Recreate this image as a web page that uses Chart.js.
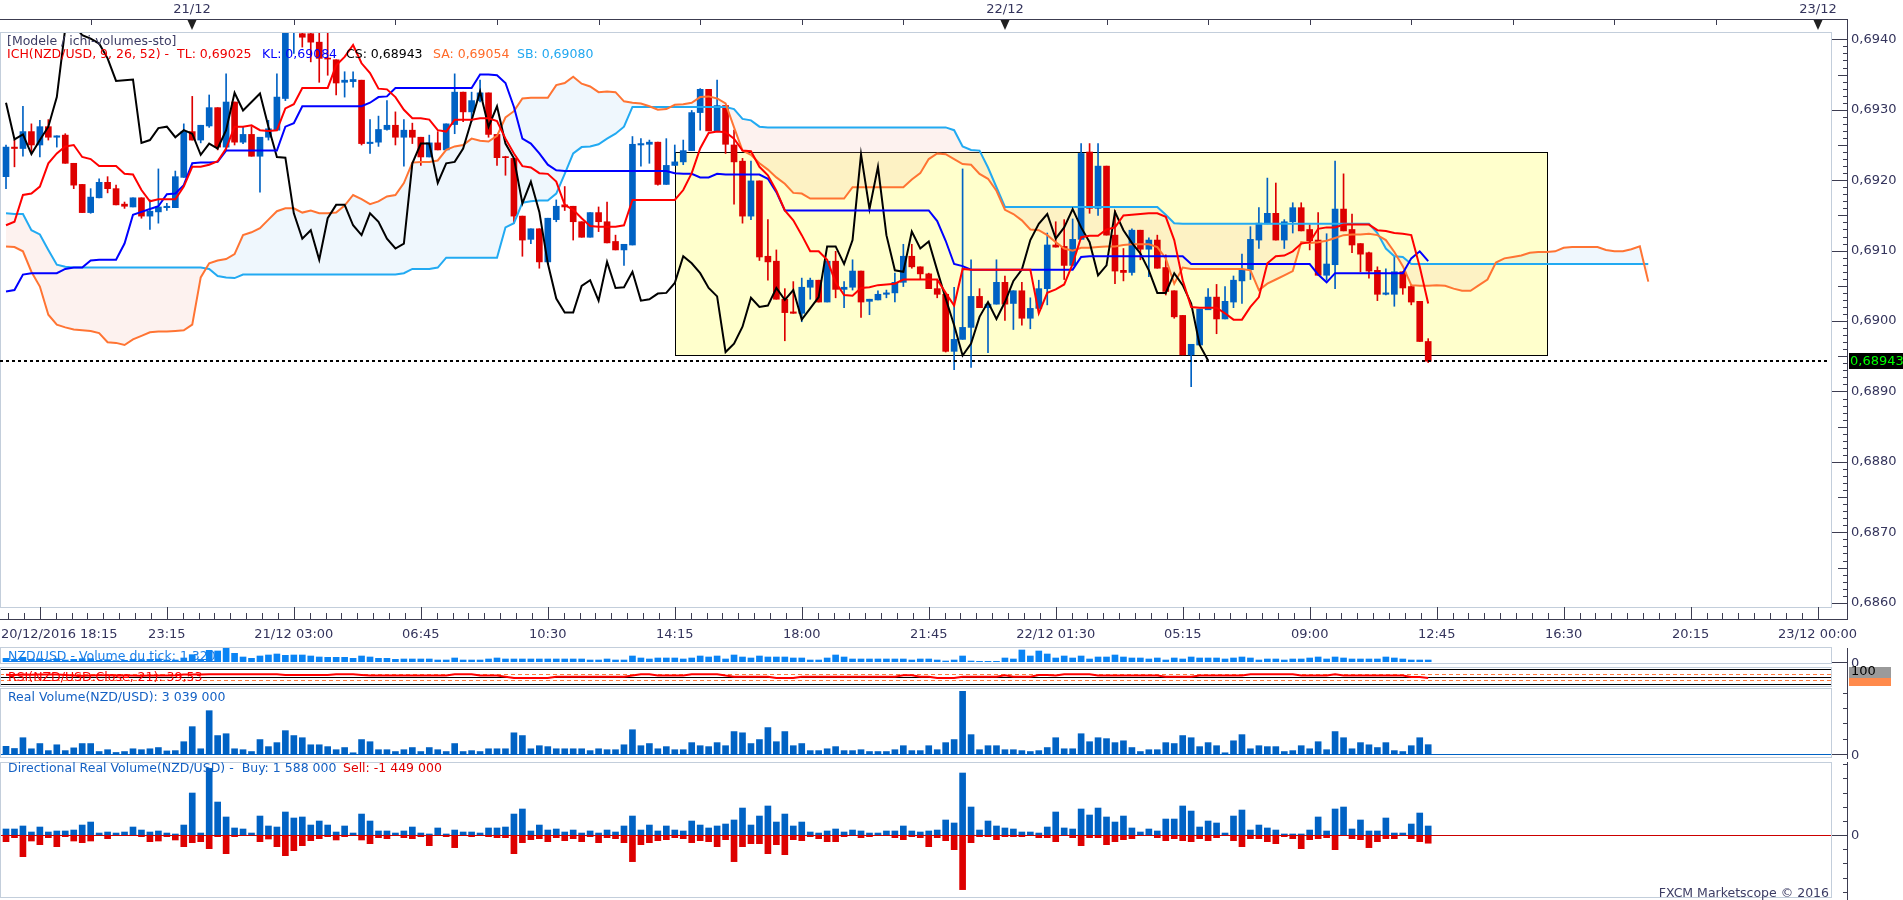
<!DOCTYPE html>
<html>
<head>
<meta charset="utf-8">
<title>NZD/USD - Ichimoku</title>
<script src="https://cdn.jsdelivr.net/npm/chart.js"></script>
<style>
  html, body { margin: 0; padding: 0; background: #fff; }
  #wrap { position: relative; width: 1903px; height: 900px; overflow: hidden;
          font-family: "DejaVu Sans", Verdana, sans-serif; font-size: 12.5px; }
  canvas { position: absolute; left: 0; }
  .txt { position: absolute; white-space: pre; line-height: 14px; z-index: 5; }
</style>
</head>
<body>
<div id="wrap">
  <canvas id="main" width="1903" height="645" style="top:0px"></canvas>
  <canvas id="tick" width="1903" height="22" style="top:644px"></canvas>
  <canvas id="rsi" width="1903" height="22" style="top:666px"></canvas>
  <canvas id="rvol" width="1903" height="73" style="top:688px"></canvas>
  <canvas id="dvol" width="1903" height="139" style="top:761px"></canvas>

  <div class="txt" style="left:7px;top:34px;color:#3c3c64">[Modele / ichi-volumes-sto]</div>
  <div class="txt" style="left:7px;top:47px;color:#ee0000">ICH(NZD/USD, 9, 26, 52) -  TL: 0,69025</div>
  <div class="txt" style="left:262px;top:47px;color:#0000ff">KL: 0,69084</div>
  <div class="txt" style="left:346px;top:47px;color:#000000">CS: 0,68943</div>
  <div class="txt" style="left:433px;top:47px;color:#ff6a28">SA: 0,69054</div>
  <div class="txt" style="left:517px;top:47px;color:#22a8f0">SB: 0,69080</div>

  <div class="txt" style="left:8px;top:649px;color:#1a7ee8;text-decoration:underline">NZD/USD - Volume du tick: 1 320</div>
  <div class="txt" style="left:8px;top:670px;color:#ff0000">RSI(NZD/USD.Close, 21): 39,53</div>
  <div class="txt" style="left:8px;top:690px;color:#1461c4">Real Volume(NZD/USD): 3 039 000</div>
  <div class="txt" style="left:8px;top:761px;color:#1461c4">Directional Real Volume(NZD/USD) -  Buy: 1 588 000</div>
  <div class="txt" style="left:343px;top:761px;color:#e00000">Sell: -1 449 000</div>
  <div class="txt" style="right:74px;top:886px;color:#3c3c64">FXCM Marketscope © 2016</div>
</div>

<script>
// 15 minute bars, index 0 = 20/12 18:30, index 168 = 22/12 12:30
const open = [
  0.69205, 0.69247, 0.69245, 0.69269, 0.69250, 0.69276, 0.69261, 0.69264, 0.69224, 0.69194,
  0.69154, 0.69175, 0.69197, 0.69188, 0.69166, 0.69162, 0.69175, 0.69149, 0.69155, 0.69161,
  0.69161, 0.69204, 0.69269, 0.69257, 0.69277, 0.69303, 0.69247, 0.69311, 0.69254, 0.69265,
  0.69234, 0.69261, 0.69271, 0.69316, 0.69415, 0.69408, 0.69408, 0.69396, 0.69373, 0.69371,
  0.69339, 0.69340, 0.69342, 0.69252, 0.69254, 0.69272, 0.69278, 0.69261, 0.69271, 0.69261,
  0.69233, 0.69253, 0.69243, 0.69279, 0.69325, 0.69297, 0.69313, 0.69324, 0.69265, 0.69233,
  0.69231, 0.69149, 0.69116, 0.69131, 0.69084, 0.69144, 0.69165, 0.69163, 0.69141, 0.69119,
  0.69154, 0.69141, 0.69113, 0.69101, 0.69108, 0.69250, 0.69251, 0.69254, 0.69194, 0.69221,
  0.69226, 0.69242, 0.69296, 0.69329, 0.69270, 0.69306, 0.69250, 0.69227, 0.69149, 0.69199,
  0.69092, 0.69085, 0.69031, 0.69013, 0.69011, 0.69048, 0.69058, 0.69027, 0.69085, 0.69045,
  0.69048, 0.69071, 0.69028, 0.69030, 0.69038, 0.69040, 0.69055, 0.69092, 0.69077, 0.69067,
  0.69046, 0.69038, 0.68957, 0.68974, 0.68991, 0.69035, 0.69019, 0.69024, 0.69055, 0.69025,
  0.69043, 0.69004, 0.69018, 0.69046, 0.69108, 0.69106, 0.69079, 0.69116, 0.69240, 0.69160,
  0.69220, 0.69122, 0.69072, 0.69069, 0.69129, 0.69102, 0.69115, 0.69076, 0.69043, 0.69008,
  0.68952, 0.68966, 0.69016, 0.69034, 0.69003, 0.69027, 0.69057, 0.69073, 0.69115, 0.69138,
  0.69153, 0.69115, 0.69141, 0.69161, 0.69130, 0.69115, 0.69065, 0.69080, 0.69159, 0.69130,
  0.69110, 0.69097, 0.69072, 0.69038, 0.69038, 0.69070, 0.69049, 0.69028, 0.68971
];
const high = [
  0.69250, 0.69257, 0.69305, 0.69280, 0.69285, 0.69286, 0.69263, 0.69266, 0.69224, 0.69194,
  0.69188, 0.69202, 0.69205, 0.69193, 0.69169, 0.69175, 0.69175, 0.69172, 0.69216, 0.69167,
  0.69213, 0.69280, 0.69319, 0.69278, 0.69321, 0.69303, 0.69351, 0.69311, 0.69275, 0.69276,
  0.69261, 0.69285, 0.69351, 0.69430, 0.69430, 0.69412, 0.69412, 0.69410, 0.69410, 0.69371,
  0.69354, 0.69354, 0.69342, 0.69286, 0.69291, 0.69313, 0.69297, 0.69286, 0.69281, 0.69261,
  0.69264, 0.69269, 0.69280, 0.69351, 0.69325, 0.69325, 0.69342, 0.69324, 0.69265, 0.69234,
  0.69231, 0.69149, 0.69131, 0.69131, 0.69146, 0.69172, 0.69191, 0.69163, 0.69141, 0.69154,
  0.69162, 0.69169, 0.69122, 0.69109, 0.69262, 0.69259, 0.69257, 0.69254, 0.69259, 0.69250,
  0.69257, 0.69299, 0.69330, 0.69329, 0.69342, 0.69306, 0.69271, 0.69231, 0.69227, 0.69199,
  0.69144, 0.69101, 0.69046, 0.69056, 0.69061, 0.69061, 0.69058, 0.69085, 0.69099, 0.69056,
  0.69087, 0.69071, 0.69031, 0.69043, 0.69044, 0.69068, 0.69109, 0.69109, 0.69077, 0.69068,
  0.69059, 0.69038, 0.69048, 0.69216, 0.69087, 0.69046, 0.69024, 0.69087, 0.69064, 0.69043,
  0.69055, 0.69033, 0.69058, 0.69125, 0.69141, 0.69144, 0.69145, 0.69252, 0.69252, 0.69252,
  0.69220, 0.69157, 0.69103, 0.69131, 0.69129, 0.69118, 0.69122, 0.69094, 0.69043, 0.69008,
  0.68967, 0.69017, 0.69046, 0.69052, 0.69049, 0.69064, 0.69095, 0.69134, 0.69161, 0.69203,
  0.69196, 0.69144, 0.69168, 0.69168, 0.69137, 0.69154, 0.69124, 0.69227, 0.69209, 0.69152,
  0.69110, 0.69098, 0.69077, 0.69074, 0.69091, 0.69070, 0.69052, 0.69028, 0.68975
];
const low = [
  0.69188, 0.69219, 0.69234, 0.69240, 0.69233, 0.69257, 0.69247, 0.69224, 0.69188, 0.69154,
  0.69153, 0.69175, 0.69182, 0.69165, 0.69160, 0.69162, 0.69146, 0.69130, 0.69139, 0.69157,
  0.69161, 0.69204, 0.69257, 0.69253, 0.69275, 0.69243, 0.69243, 0.69250, 0.69252, 0.69234,
  0.69183, 0.69257, 0.69271, 0.69313, 0.69380, 0.69389, 0.69368, 0.69339, 0.69349, 0.69321,
  0.69318, 0.69332, 0.69250, 0.69238, 0.69248, 0.69271, 0.69250, 0.69220, 0.69252, 0.69221,
  0.69233, 0.69243, 0.69243, 0.69266, 0.69283, 0.69283, 0.69311, 0.69261, 0.69221, 0.69207,
  0.69139, 0.69092, 0.69110, 0.69075, 0.69082, 0.69141, 0.69157, 0.69115, 0.69119, 0.69119,
  0.69127, 0.69111, 0.69101, 0.69079, 0.69108, 0.69220, 0.69224, 0.69193, 0.69194, 0.69221,
  0.69222, 0.69242, 0.69271, 0.69270, 0.69270, 0.69238, 0.69166, 0.69139, 0.69144, 0.69086,
  0.69058, 0.69031, 0.68972, 0.69011, 0.68999, 0.69031, 0.69027, 0.69027, 0.69033, 0.69019,
  0.69044, 0.69005, 0.69009, 0.69030, 0.69033, 0.69027, 0.69049, 0.69075, 0.69059, 0.69046,
  0.69033, 0.68956, 0.68931, 0.68974, 0.68934, 0.69019, 0.68955, 0.69024, 0.69001, 0.68988,
  0.68994, 0.68989, 0.69018, 0.69023, 0.69105, 0.69059, 0.69079, 0.69116, 0.69153, 0.69150,
  0.69122, 0.69053, 0.69057, 0.69065, 0.69087, 0.69063, 0.69075, 0.69037, 0.69004, 0.68952,
  0.68907, 0.68966, 0.69016, 0.68982, 0.69003, 0.69019, 0.69025, 0.69059, 0.69103, 0.69138,
  0.69115, 0.69103, 0.69125, 0.69128, 0.69101, 0.69065, 0.69058, 0.69046, 0.69128, 0.69097,
  0.69070, 0.69061, 0.69029, 0.69037, 0.69021, 0.69038, 0.69023, 0.68971, 0.68941
];
const close = [
  0.69247, 0.69245, 0.69269, 0.69250, 0.69276, 0.69261, 0.69263, 0.69224, 0.69193, 0.69154,
  0.69176, 0.69197, 0.69188, 0.69165, 0.69163, 0.69175, 0.69149, 0.69156, 0.69162, 0.69163,
  0.69205, 0.69269, 0.69257, 0.69278, 0.69303, 0.69247, 0.69311, 0.69254, 0.69265, 0.69234,
  0.69261, 0.69273, 0.69318, 0.69420, 0.69420, 0.69403, 0.69396, 0.69373, 0.69372, 0.69338,
  0.69342, 0.69343, 0.69252, 0.69254, 0.69272, 0.69278, 0.69261, 0.69271, 0.69261, 0.69233,
  0.69253, 0.69243, 0.69280, 0.69325, 0.69297, 0.69313, 0.69324, 0.69265, 0.69232, 0.69232,
  0.69149, 0.69115, 0.69131, 0.69084, 0.69146, 0.69163, 0.69162, 0.69141, 0.69119, 0.69154,
  0.69141, 0.69111, 0.69101, 0.69109, 0.69251, 0.69252, 0.69254, 0.69194, 0.69221, 0.69226,
  0.69242, 0.69296, 0.69329, 0.69270, 0.69306, 0.69251, 0.69226, 0.69149, 0.69199, 0.69091,
  0.69084, 0.69031, 0.69012, 0.69011, 0.69048, 0.69058, 0.69027, 0.69085, 0.69045, 0.69048,
  0.69071, 0.69027, 0.69031, 0.69038, 0.69040, 0.69055, 0.69092, 0.69077, 0.69067, 0.69046,
  0.69038, 0.68957, 0.68974, 0.68991, 0.69035, 0.69019, 0.69024, 0.69055, 0.69024, 0.69043,
  0.69004, 0.69018, 0.69046, 0.69108, 0.69105, 0.69079, 0.69116, 0.69238, 0.69160, 0.69220,
  0.69122, 0.69071, 0.69069, 0.69129, 0.69102, 0.69115, 0.69075, 0.69042, 0.69006, 0.68952,
  0.68967, 0.69017, 0.69034, 0.69003, 0.69028, 0.69058, 0.69073, 0.69116, 0.69139, 0.69153,
  0.69115, 0.69141, 0.69161, 0.69128, 0.69114, 0.69065, 0.69081, 0.69159, 0.69128, 0.69108,
  0.69095, 0.69071, 0.69038, 0.69040, 0.69070, 0.69047, 0.69027, 0.68971, 0.68943
];

// Ichimoku lines, read at their plotted bar positions
const tenkan = [
  0.69136, 0.69141, 0.69179, 0.69181, 0.69191, 0.69224, 0.69238, 0.69248, 0.69250, 0.69233,
  0.69230, 0.69220, 0.69220, 0.69220, 0.69209, 0.69208, 0.69186, 0.69170, 0.69173, 0.69173,
  0.69173, 0.69191, 0.69219, 0.69219, 0.69222, 0.69227, 0.69245, 0.69276, 0.69276, 0.69278,
  0.69271, 0.69270, 0.69271, 0.69302, 0.69308, 0.69331, 0.69331, 0.69331, 0.69331, 0.69363,
  0.69375, 0.69392, 0.69366, 0.69352, 0.69330, 0.69329, 0.69318, 0.69300, 0.69288, 0.69288,
  0.69286, 0.69271, 0.69269, 0.69286, 0.69286, 0.69286, 0.69288, 0.69288, 0.69284, 0.69259,
  0.69238, 0.69220, 0.69218, 0.69210, 0.69209, 0.69198, 0.69165, 0.69158, 0.69146, 0.69135,
  0.69134, 0.69134, 0.69134, 0.69136, 0.69172, 0.69172, 0.69172, 0.69172, 0.69172, 0.69172,
  0.69186, 0.69210, 0.69245, 0.69267, 0.69269, 0.69268, 0.69259, 0.69242, 0.69241, 0.69219,
  0.69207, 0.69185, 0.69157, 0.69143, 0.69122, 0.69099, 0.69099, 0.69087, 0.69055, 0.69037,
  0.69036, 0.69047, 0.69048, 0.69051, 0.69052, 0.69053, 0.69059, 0.69059, 0.69059, 0.69059,
  0.69059, 0.69040, 0.69022, 0.69074, 0.69073, 0.69073, 0.69073, 0.69073, 0.69073, 0.69073,
  0.69073, 0.69073, 0.69011, 0.69040, 0.69045, 0.69052, 0.69081, 0.69119, 0.69121, 0.69121,
  0.69130, 0.69133, 0.69150, 0.69151, 0.69152, 0.69153, 0.69153, 0.69148, 0.69115, 0.69058,
  0.69020, 0.69019, 0.69019, 0.69019, 0.69011, 0.69002, 0.69002, 0.69020, 0.69034, 0.69082,
  0.69092, 0.69093, 0.69099, 0.69110, 0.69112, 0.69131, 0.69133, 0.69133, 0.69137, 0.69137,
  0.69137, 0.69137, 0.69129, 0.69128, 0.69125, 0.69124, 0.69122, 0.69077, 0.69025
];
const kijun = [
  0.69042, 0.69044, 0.69066, 0.69068, 0.69068, 0.69068, 0.69068, 0.69074, 0.69076, 0.69076,
  0.69086, 0.69087, 0.69087, 0.69087, 0.69110, 0.69151, 0.69155, 0.69159, 0.69163, 0.69180,
  0.69181, 0.69193, 0.69224, 0.69225, 0.69225, 0.69226, 0.69242, 0.69242, 0.69242, 0.69242,
  0.69242, 0.69242, 0.69242, 0.69276, 0.69281, 0.69305, 0.69305, 0.69305, 0.69305, 0.69305,
  0.69305, 0.69305, 0.69305, 0.69310, 0.69318, 0.69319, 0.69331, 0.69331, 0.69331, 0.69331,
  0.69331, 0.69331, 0.69331, 0.69331, 0.69331, 0.69331, 0.69350, 0.69350, 0.69349, 0.69338,
  0.69304, 0.69259, 0.69252, 0.69238, 0.69222, 0.69214, 0.69213, 0.69213, 0.69213, 0.69213,
  0.69213, 0.69213, 0.69213, 0.69213, 0.69213, 0.69213, 0.69213, 0.69213, 0.69213, 0.69210,
  0.69209, 0.69209, 0.69204, 0.69204, 0.69209, 0.69208, 0.69208, 0.69208, 0.69208, 0.69208,
  0.69202, 0.69183, 0.69157, 0.69157, 0.69157, 0.69157, 0.69157, 0.69157, 0.69157, 0.69157,
  0.69157, 0.69157, 0.69157, 0.69157, 0.69157, 0.69157, 0.69157, 0.69157, 0.69157, 0.69157,
  0.69142, 0.69114, 0.69081, 0.69078, 0.69073, 0.69073, 0.69073, 0.69073, 0.69073, 0.69073,
  0.69073, 0.69073, 0.69073, 0.69073, 0.69073, 0.69073, 0.69073, 0.69091, 0.69092, 0.69092,
  0.69092, 0.69092, 0.69092, 0.69092, 0.69092, 0.69092, 0.69092, 0.69092, 0.69092, 0.69092,
  0.69081, 0.69081, 0.69081, 0.69081, 0.69081, 0.69081, 0.69081, 0.69081, 0.69081, 0.69081,
  0.69081, 0.69081, 0.69081, 0.69081, 0.69081, 0.69066, 0.69055, 0.69068, 0.69068, 0.69068,
  0.69068, 0.69068, 0.69068, 0.69068, 0.69068, 0.69068, 0.69089, 0.69099, 0.69085
];
const chikou = [
  0.69310, 0.69258, 0.69265, 0.69237, 0.69257, 0.69276, 0.69318, 0.69416, 0.69420, 0.69406,
  0.69401, 0.69394, 0.69373, 0.69341, 0.69342, 0.69343, 0.69253, 0.69257, 0.69274, 0.69276,
  0.69261, 0.69271, 0.69266, 0.69236, 0.69252, 0.69245, 0.69271, 0.69324, 0.69299, 0.69311,
  0.69323, 0.69276, 0.69233, 0.69232, 0.69153, 0.69117, 0.69129, 0.69087, 0.69146, 0.69165,
  0.69165, 0.69136, 0.69122, 0.69153, 0.69141, 0.69117, 0.69103, 0.69110, 0.69224, 0.69252,
  0.69252, 0.69196, 0.69224, 0.69226, 0.69245, 0.69285, 0.69326, 0.69276, 0.69305, 0.69252,
  0.69231, 0.69167, 0.69198, 0.69155, 0.69082, 0.69032, 0.69012, 0.69012, 0.69050, 0.69058,
  0.69029, 0.69084, 0.69047, 0.69048, 0.69070, 0.69029, 0.69031, 0.69039, 0.69040, 0.69054,
  0.69092, 0.69082, 0.69068, 0.69047, 0.69035, 0.68956, 0.68968, 0.68992, 0.69033, 0.69020,
  0.69022, 0.69047, 0.69030, 0.69044, 0.69002, 0.69018, 0.69034, 0.69106, 0.69106, 0.69081,
  0.69115, 0.69237, 0.69159, 0.69219, 0.69122, 0.69072, 0.69070, 0.69127, 0.69103, 0.69113,
  0.69072, 0.69032, 0.68994, 0.68951, 0.68968, 0.69006, 0.69027, 0.69003, 0.69027, 0.69057,
  0.69073, 0.69115, 0.69138, 0.69152, 0.69117, 0.69133, 0.69159, 0.69133, 0.69112, 0.69065,
  0.69079, 0.69155, 0.69129, 0.69111, 0.69096, 0.69072, 0.69040, 0.69040, 0.69068, 0.69051,
  0.69025, 0.68966, 0.68944
];
const senkouA = [
  0.69106, 0.69105, 0.69099, 0.69070, 0.69049, 0.69009, 0.68995, 0.68991, 0.68988, 0.68987,
  0.68986, 0.68983, 0.68970, 0.68969, 0.68966, 0.68974, 0.68979, 0.68984, 0.68985, 0.68985,
  0.68986, 0.68987, 0.68995, 0.69062, 0.69082, 0.69086, 0.69088, 0.69095, 0.69122, 0.69126,
  0.69132, 0.69144, 0.69156, 0.69160, 0.69160, 0.69154, 0.69157, 0.69153, 0.69153, 0.69154,
  0.69164, 0.69179, 0.69173, 0.69166, 0.69170, 0.69177, 0.69179, 0.69196, 0.69225, 0.69226,
  0.69226, 0.69228, 0.69243, 0.69248, 0.69250, 0.69259, 0.69256, 0.69255, 0.69263, 0.69289,
  0.69298, 0.69316, 0.69317, 0.69317, 0.69317, 0.69335, 0.69338, 0.69347, 0.69337, 0.69333,
  0.69325, 0.69326, 0.69325, 0.69312, 0.69310, 0.69309, 0.69305, 0.69300, 0.69301, 0.69307,
  0.69308, 0.69310, 0.69318, 0.69319, 0.69316, 0.69309, 0.69275, 0.69242, 0.69236, 0.69224,
  0.69215, 0.69204, 0.69195, 0.69182, 0.69181, 0.69174, 0.69174, 0.69174, 0.69174, 0.69174,
  0.69190, 0.69190, 0.69190, 0.69190, 0.69190, 0.69190, 0.69190, 0.69201, 0.69210, 0.69230,
  0.69238, 0.69237, 0.69230, 0.69223, 0.69222, 0.69209, 0.69202, 0.69185, 0.69158, 0.69152,
  0.69143, 0.69130, 0.69129, 0.69122, 0.69112, 0.69103, 0.69100, 0.69104, 0.69104, 0.69105,
  0.69106, 0.69106, 0.69108, 0.69109, 0.69109, 0.69109, 0.69105, 0.69089, 0.69053, 0.69076,
  0.69074, 0.69074, 0.69074, 0.69074, 0.69074, 0.69074, 0.69074, 0.69072, 0.69044, 0.69053,
  0.69059, 0.69065, 0.69071, 0.69112, 0.69111, 0.69112, 0.69114, 0.69118, 0.69122, 0.69123,
  0.69123, 0.69124, 0.69122, 0.69115, 0.69098, 0.69078, 0.69051, 0.69050, 0.69050, 0.69051,
  0.69050, 0.69046, 0.69043, 0.69043, 0.69051, 0.69059, 0.69083, 0.69089, 0.69091, 0.69093,
  0.69097, 0.69098, 0.69098, 0.69099, 0.69104, 0.69105, 0.69105, 0.69105, 0.69105, 0.69101,
  0.69099, 0.69099, 0.69102, 0.69106, 0.69056
];
const senkouB = [
  0.69153, 0.69152, 0.69152, 0.69129, 0.69123, 0.69101, 0.69080, 0.69077, 0.69076, 0.69076,
  0.69076, 0.69076, 0.69076, 0.69076, 0.69076, 0.69076, 0.69076, 0.69076, 0.69076, 0.69076,
  0.69076, 0.69076, 0.69076, 0.69076, 0.69074, 0.69064, 0.69062, 0.69061, 0.69066, 0.69066,
  0.69066, 0.69066, 0.69066, 0.69066, 0.69066, 0.69066, 0.69066, 0.69066, 0.69066, 0.69066,
  0.69066, 0.69066, 0.69066, 0.69066, 0.69066, 0.69066, 0.69066, 0.69068, 0.69074, 0.69074,
  0.69074, 0.69076, 0.69090, 0.69090, 0.69090, 0.69090, 0.69090, 0.69090, 0.69090, 0.69133,
  0.69139, 0.69168, 0.69170, 0.69171, 0.69171, 0.69181, 0.69209, 0.69238, 0.69247, 0.69248,
  0.69251, 0.69259, 0.69266, 0.69276, 0.69304, 0.69304, 0.69304, 0.69304, 0.69304, 0.69304,
  0.69304, 0.69304, 0.69304, 0.69304, 0.69304, 0.69304, 0.69301, 0.69287, 0.69285, 0.69276,
  0.69275, 0.69275, 0.69275, 0.69275, 0.69275, 0.69275, 0.69275, 0.69275, 0.69275, 0.69275,
  0.69275, 0.69275, 0.69275, 0.69275, 0.69275, 0.69275, 0.69275, 0.69275, 0.69275, 0.69275,
  0.69275, 0.69275, 0.69271, 0.69248, 0.69243, 0.69242, 0.69218, 0.69190, 0.69162, 0.69162,
  0.69162, 0.69162, 0.69162, 0.69162, 0.69162, 0.69162, 0.69162, 0.69162, 0.69162, 0.69162,
  0.69162, 0.69162, 0.69162, 0.69162, 0.69162, 0.69162, 0.69162, 0.69151, 0.69139, 0.69138,
  0.69138, 0.69138, 0.69138, 0.69138, 0.69138, 0.69138, 0.69138, 0.69138, 0.69138, 0.69138,
  0.69138, 0.69138, 0.69138, 0.69138, 0.69138, 0.69138, 0.69138, 0.69138, 0.69138, 0.69138,
  0.69138, 0.69138, 0.69125, 0.69103, 0.69092, 0.69091, 0.69081, 0.69081, 0.69081, 0.69081,
  0.69081, 0.69081, 0.69081, 0.69081, 0.69081, 0.69081, 0.69081, 0.69081, 0.69081, 0.69081,
  0.69081, 0.69081, 0.69081, 0.69081, 0.69081, 0.69081, 0.69081, 0.69081, 0.69081, 0.69081,
  0.69081, 0.69081, 0.69081, 0.69081, 0.69081
];

// lower panels
const tickVolume = [
  2420, 1760, 3080, 1760, 2200, 1320, 2200, 1320, 1760, 2200,
  2200, 1100, 1540, 880, 1100, 1760, 1540, 1760, 1980, 1320,
  1320, 2640, 4840, 1760, 7700, 7260, 9680, 5720, 3300, 2420,
  3960, 4620, 5280, 4400, 4620, 4620, 3960, 3300, 3080, 3080,
  3080, 2420, 3960, 3300, 2420, 2420, 1760, 1980, 1980, 1980,
  1980, 1320, 1320, 2640, 1320, 1320, 1320, 1980, 2640, 1980,
  1980, 1980, 1980, 1980, 1980, 1980, 1980, 1980, 1980, 1320,
  1320, 1980, 1320, 1320, 3960, 2640, 1980, 2640, 2640, 2640,
  1980, 2640, 3960, 3300, 3960, 1980, 4620, 3300, 2640, 3960,
  3300, 3300, 3300, 2640, 2640, 1320, 1320, 2640, 4620, 3300,
  1980, 1980, 1980, 1980, 1980, 1980, 1980, 1320, 1980, 1980,
  1320, 660, 1320, 3960, 660, 440, 440, 440, 2640, 1980,
  7920, 3960, 7260, 5280, 2640, 3960, 2640, 3960, 1980, 3300,
  3300, 4620, 3300, 2640, 2640, 1980, 2640, 1320, 2640, 1980,
  3300, 2640, 2640, 2640, 1980, 2640, 3300, 2640, 1320, 1980,
  1980, 1320, 1980, 1980, 2640, 3300, 1980, 3300, 2640, 1980,
  1980, 1980, 1980, 3300, 2640, 1980, 1320, 1320, 1320
];
const rsi = [
  62, 60, 63, 61, 64, 63, 63, 60, 57, 55,
  57, 59, 58, 56, 56, 57, 55, 56, 57, 57,
  59, 63, 64, 63, 65, 65, 65, 65, 65, 65,
  65, 65, 65, 60, 60, 60, 60, 60, 60, 65,
  65, 65, 60, 56, 56, 56, 56, 56, 56, 56,
  56, 56, 56, 65, 65, 65, 56, 56, 56, 49,
  40, 40, 40, 40, 40, 49, 49, 49, 49, 49,
  49, 49, 49, 49, 56, 65, 65, 56, 56, 56,
  56, 65, 65, 65, 65, 56, 49, 49, 49, 49,
  49, 40, 40, 40, 49, 49, 49, 49, 49, 49,
  49, 49, 49, 49, 49, 49, 58, 58, 49, 49,
  40, 40, 40, 49, 49, 49, 49, 49, 58, 49,
  49, 49, 60, 60, 56, 65, 65, 65, 65, 56,
  56, 56, 56, 56, 56, 56, 56, 49, 49, 49,
  49, 56, 56, 56, 56, 56, 56, 65, 65, 65,
  65, 65, 65, 56, 56, 56, 56, 65, 56, 56,
  56, 56, 56, 56, 56, 56, 47, 47, 39.53
];
const rsiLevels = [30, 70];
// volumes in millions
const realVolume = [
  2.5, 1.8, 5.3, 1.7, 3.4, 1.1, 3.0, 1.1, 2.0, 3.4,
  3.4, 0.8, 1.4, 0.5, 0.8, 1.7, 1.4, 1.7, 2.1, 1.0,
  1.1, 4.0, 8.9, 1.7, 14.1, 6.0, 6.6, 1.7, 1.4, 0.8,
  4.7, 2.4, 3.7, 7.6, 6.0, 5.3, 3.0, 3.0, 2.4, 1.4,
  2.1, 0.4, 4.7, 4.0, 1.4, 1.4, 0.8, 1.4, 2.1, 0.8,
  2.1, 1.4, 0.8, 3.4, 0.8, 1.1, 0.8, 1.7, 1.7, 1.7,
  6.9, 6.0, 1.7, 2.7, 2.4, 1.7, 1.7, 1.7, 1.7, 1.1,
  1.7, 1.4, 1.4, 3.0, 7.9, 2.7, 3.4, 1.7, 2.4, 1.4,
  1.4, 3.7, 2.7, 2.4, 3.7, 2.7, 7.3, 6.9, 3.4, 4.7,
  8.6, 4.0, 7.3, 2.7, 3.4, 1.1, 1.1, 1.7, 2.4, 1.1,
  1.1, 1.4, 0.8, 0.8, 0.8, 1.4, 2.7, 1.1, 1.1, 2.7,
  1.4, 3.7, 4.7, 20.4, 6.3, 1.4, 2.7, 2.7, 1.4, 1.4,
  1.1, 0.8, 1.1, 2.1, 5.3, 1.7, 1.7, 6.6, 4.0, 5.3,
  5.0, 3.7, 4.3, 2.1, 0.8, 1.4, 1.4, 3.7, 3.4, 6.0,
  5.3, 2.4, 3.7, 2.7, 0.4, 4.3, 6.3, 1.7, 2.7, 2.4,
  2.4, 0.8, 1.1, 2.7, 1.7, 4.0, 1.4, 7.3, 5.3, 1.7,
  3.7, 3.0, 2.1, 3.7, 1.1, 0.8, 2.7, 5.3, 3.039
];
const buyVolume = [
  1.06, 1.06, 1.59, 0.53, 1.41, 0.53, 0.71, 0.71, 0.88, 1.76,
  2.29, 0.35, 0.53, 0.35, 0.53, 1.41, 0.88, 0.53, 0.71, 0.35,
  0.18, 1.76, 7.41, 0.35, 11.76, 5.82, 3.18, 1.24, 1.06, 0.35,
  3.35, 1.59, 1.41, 4.06, 3.00, 3.18, 1.76, 2.47, 1.76, 0.53,
  1.59, 0.35, 3.70, 2.47, 0.71, 0.71, 0.35, 0.71, 1.41, 0.35,
  0.18, 1.24, 0.18, 0.88, 0.53, 0.53, 0.35, 1.24, 1.24, 1.41,
  3.70, 4.59, 0.71, 1.76, 0.88, 1.06, 0.53, 0.88, 0.35, 0.71,
  0.35, 0.88, 0.53, 1.59, 3.35, 0.88, 1.76, 0.71, 1.59, 0.88,
  0.71, 2.47, 1.76, 1.24, 1.59, 1.94, 2.65, 4.76, 1.76, 3.35,
  5.12, 2.29, 3.70, 1.59, 2.29, 0.53, 0.35, 0.71, 1.06, 0.53,
  0.88, 0.71, 0.35, 0.35, 0.71, 0.71, 1.59, 0.71, 0.53, 0.71,
  0.88, 2.65, 2.12, 10.94, 4.94, 0.88, 2.47, 1.59, 1.24, 1.06,
  0.53, 0.53, 0.35, 1.41, 4.06, 1.24, 1.06, 4.59, 3.53, 4.76,
  3.18, 2.29, 3.35, 1.24, 0.53, 1.06, 0.71, 2.82, 2.82, 5.12,
  4.23, 1.41, 2.47, 2.12, 0.35, 3.35, 4.41, 0.88, 1.76, 1.24,
  0.88, 0.18, 0.18, 0.18, 0.88, 3.18, 0.71, 4.59, 4.94, 1.06,
  2.65, 0.71, 0.71, 3.00, 0.35, 0.35, 1.94, 3.88, 1.588
];
const sellVolume = [
  -1.18, -0.47, -3.82, -1.06, -1.71, -0.47, -2.06, -0.29, -1.06, -1.35,
  -1.06, -0.06, -0.65, -0.06, -0.06, -0.06, -0.29, -1.18, -1.06, -0.29,
  -0.88, -2.06, -1.35, -1.18, -2.41, -0.29, -3.29, -0.29, -0.12, -0.06,
  -1.18, -0.71, -2.06, -3.65, -2.76, -1.88, -1.00, -0.65, -0.29, -0.88,
  -0.29, -0.12, -0.88, -1.53, -0.47, -0.65, -0.06, -0.47, -0.65, -0.29,
  -1.88, -0.06, -0.29, -2.23, -0.06, -0.29, -0.06, -0.29, -0.47, -0.47,
  -3.29, -1.35, -0.82, -0.65, -1.18, -0.47, -1.00, -0.65, -1.18, -0.29,
  -1.35, -0.47, -0.65, -1.35, -4.70, -1.71, -1.35, -1.00, -0.82, -0.47,
  -0.65, -1.35, -1.00, -1.18, -2.06, -0.82, -4.70, -2.06, -1.53, -1.53,
  -3.29, -1.71, -3.47, -0.82, -1.00, -0.29, -0.65, -1.18, -1.18, -0.29,
  -0.06, -0.47, -0.29, -0.06, -0.06, -0.47, -0.82, -0.29, -0.47, -2.06,
  -0.47, -1.00, -2.59, -9.64, -1.35, -0.29, -0.29, -0.82, -0.29, -0.29,
  -0.29, -0.06, -0.47, -0.47, -1.18, -0.06, -0.47, -1.88, -0.47, -0.47,
  -1.71, -1.18, -0.82, -0.65, -0.06, -0.06, -0.47, -1.00, -0.65, -1.00,
  -1.18, -0.65, -1.00, -0.47, -0.06, -1.00, -2.06, -0.65, -0.65, -1.18,
  -1.53, -0.29, -0.65, -2.41, -0.82, -0.65, -0.47, -2.59, -0.06, -0.65,
  -0.82, -2.23, -1.18, -0.65, -0.65, -0.06, -0.65, -1.18, -1.449
];

// axes
const priceTicks = [0.686, 0.687, 0.688, 0.689, 0.690, 0.691, 0.692, 0.693, 0.694];
const bottomLabels = ['20/12/2016 18:15', '23:15', '21/12 03:00', '06:45', '10:30', '14:15', '18:00',
  '21:45', '22/12 01:30', '05:15', '09:00', '12:45', '16:30', '20:15', '23/12 00:00'];
const bottomIdx = [-1, 19, 34, 49, 64, 79, 94, 109, 124, 139, 154, 169, 184, 199, 214];
const dayLabels = ['21/12', '22/12', '23/12'];
const dayIdx = [22, 118, 214];
// the yellow zone
const zoneStart = 79, zoneEnd = 182, zoneTop = 0.69240, zoneBottom = 0.68952;

const xMin = -0.71, xMax = 215.7;
const yMin = 0.68594, yMax = 0.69409;

const blue = '#0062c4', red = '#dd0000';
const frameColor = '#c3cedb', axisColor = '#3c3c50', axisText = '#34345c';
const axisFont = '13px "DejaVu Sans", Verdana, sans-serif';

Chart.defaults.font.family = '"DejaVu Sans", Verdana, sans-serif';
Chart.defaults.font.size = 13;

const pts = arr => arr.map((v, i) => ({x: i, y: v}));
const candleColors = close.map((c, i) => c < open[i] ? red : blue);
const wickData = high.map((h, i) => ({x: i, y: [low[i], h]}));
const bodyData = open.map((o, i) => ({x: i, y: [o, close[i]]}));

function frame(ctx, top, bottom) {
  ctx.strokeStyle = frameColor;
  ctx.lineWidth = 1;
  ctx.strokeRect(0.5, top + 0.5, 1831, bottom - top);
}
function vAxis(ctx, top, bottom) {
  ctx.strokeStyle = axisColor;
  ctx.lineWidth = 1;
  ctx.beginPath(); ctx.moveTo(1847.5, top); ctx.lineTo(1847.5, bottom); ctx.stroke();
}
function hTick(ctx, y, len) {
  const py = Math.round(y) + 0.5;
  ctx.beginPath(); ctx.moveTo(1848 - len, py); ctx.lineTo(1848, py); ctx.stroke();
}
function axisLabel(ctx, text, y) {
  ctx.font = axisFont;
  ctx.fillStyle = axisText;
  ctx.textAlign = 'left';
  ctx.textBaseline = 'middle';
  ctx.fillText(text, 1851, y);
}

const zonePlugin = {
  id: 'zone',
  beforeDraw(chart) {
    const {ctx, scales: {x, y}} = chart;
    const l = Math.round(x.getPixelForValue(zoneStart)) + 0.5;
    const r = Math.round(x.getPixelForValue(zoneEnd)) + 0.5;
    const t = Math.round(y.getPixelForValue(zoneTop)) + 0.5;
    const b = Math.round(y.getPixelForValue(zoneBottom)) + 0.5;
    ctx.save();
    ctx.fillStyle = '#ffffcc';
    ctx.fillRect(l, t, r - l, b - t);
    ctx.strokeStyle = '#000';
    ctx.lineWidth = 1;
    ctx.strokeRect(l, t, r - l, b - t);
    ctx.restore();
  }
};

const mainAxes = {
  id: 'mainAxes',
  afterDraw(chart) {
    const {ctx, chartArea: a, scales: {x, y}} = chart;
    ctx.save();
    frame(ctx, a.top - 1, a.bottom);
    vAxis(ctx, 19, 620);
    ctx.beginPath();
    ctx.moveTo(0, 19.5); ctx.lineTo(1848, 19.5);
    ctx.moveTo(0, 619.5); ctx.lineTo(1848, 619.5);
    ctx.stroke();

    // price ticks, 0.0001 apart
    for (let k = 6859; k <= 6941; k++) {
      const v = k / 10000;
      if (v < y.min || v > y.max) continue;
      hTick(ctx, y.getPixelForValue(v), k % 10 === 0 ? 16 : (k % 5 === 0 ? 10 : 5));
    }

    // top time strip, ticks every 3 hours
    for (let i = dayIdx[0] - 12; i <= x.max; i += 12) {
      const px = Math.round(x.getPixelForValue(i)) + 0.5;
      ctx.beginPath(); ctx.moveTo(px, 19.5); ctx.lineTo(px, 25); ctx.stroke();
    }
    ctx.font = axisFont;
    ctx.textAlign = 'center';
    ctx.textBaseline = 'middle';
    dayIdx.forEach((i, n) => {
      const px = Math.round(x.getPixelForValue(i));
      ctx.fillStyle = '#202020';
      ctx.beginPath();
      ctx.moveTo(px - 4.5, 20); ctx.lineTo(px + 4.5, 20); ctx.lineTo(px, 30);
      ctx.closePath(); ctx.fill();
      ctx.fillStyle = axisText;
      ctx.fillText(dayLabels[n], px, 10);
    });

    // bottom time axis: major every 15 bars, 8 minor steps in between
    const step = 15, first = bottomIdx[1] - step;
    for (let m = 0; first + m * step / 8 <= x.max; m++) {
      const i = first + m * step / 8;
      const px = Math.round(x.getPixelForValue(i)) + 0.5;
      ctx.beginPath();
      ctx.moveTo(px, m % 8 === 0 ? a.bottom : 613);
      ctx.lineTo(px, 619.5);
      ctx.stroke();
    }
    for (let m = 1; first - m * step / 8 >= x.min; m++) {
      const px = Math.round(x.getPixelForValue(first - m * step / 8)) + 0.5;
      ctx.beginPath(); ctx.moveTo(px, 613); ctx.lineTo(px, 619.5); ctx.stroke();
    }
    bottomIdx.forEach((i, n) => {
      ctx.fillStyle = axisText;
      ctx.textAlign = n === 0 ? 'left' : 'center';
      ctx.fillText(bottomLabels[n], n === 0 ? 1 : x.getPixelForValue(i), 635);
    });

    // last price
    const last = close[close.length - 1];
    const py = Math.round(y.getPixelForValue(last));
    ctx.setLineDash([3, 3]);
    ctx.lineWidth = 2;
    ctx.strokeStyle = '#000';
    ctx.beginPath(); ctx.moveTo(0, py); ctx.lineTo(1830, py); ctx.stroke();
    ctx.setLineDash([]);
    ctx.fillStyle = '#000';
    ctx.fillRect(1849, py - 8, 54, 16);
    ctx.fillStyle = '#00ff00';
    ctx.textAlign = 'left';
    ctx.fillText(last.toFixed(5).replace('.', ','), 1850, py + 0.5);
    ctx.restore();
  }
};

const lineDs = (data, color, extra) => Object.assign({
  type: 'line', data: pts(data), borderColor: color, borderWidth: 2,
  pointRadius: 0, tension: 0, fill: false, order: 1
}, extra || {});

new Chart(document.getElementById('main'), {
  type: 'bar',
  data: {
    datasets: [
      lineDs(tenkan, '#ff0000'),
      lineDs(kijun, '#0000ff'),
      lineDs(chikou, '#000000'),
      lineDs(senkouA, '#ff7433', {fill: {target: 4, above: 'rgba(140,195,240,0.14)', below: 'rgba(245,175,160,0.17)'}}),
      lineDs(senkouB, '#22aaf2'),
      {type: 'bar', data: wickData, backgroundColor: candleColors, barThickness: 1, grouped: false, order: 3},
      {type: 'bar', data: bodyData, backgroundColor: candleColors, barThickness: 6, grouped: false, minBarLength: 1, order: 2}
    ]
  },
  options: {
    responsive: false, animation: false, events: [],
    layout: {padding: {top: 33, bottom: 38, left: 0, right: 0}},
    plugins: {legend: {display: false}, tooltip: {enabled: false}, filler: {drawTime: 'beforeDatasetsDraw'}},
    scales: {
      x: {type: 'linear', min: xMin, max: xMax, display: false, offset: false},
      y: {
        position: 'right', min: yMin, max: yMax,
        afterFit(s) { s.width = 71; },
        afterBuildTicks(s) { s.ticks = priceTicks.map(v => ({value: v})); },
        grid: {display: false, drawTicks: false},
        border: {display: false},
        ticks: {padding: 19, color: axisText, autoSkip: false, font: {size: 13},
                callback: v => v.toFixed(4).replace('.', ',')}
      }
    }
  },
  plugins: [zonePlugin, mainAxes]
});

function subChart(id, datasets, min, max, padTop, padBottom, decor) {
  return new Chart(document.getElementById(id), {
    type: 'bar',
    data: {datasets},
    options: {
      responsive: false, animation: false, events: [],
      layout: {padding: {top: padTop, bottom: padBottom, left: 0, right: 71}},
      plugins: {legend: {display: false}, tooltip: {enabled: false}},
      scales: {
        x: {type: 'linear', min: xMin, max: xMax, display: false, offset: false},
        y: {min, max, display: false}
      }
    },
    plugins: [decor]
  });
}

subChart('tick',
  [{type: 'bar', data: pts(tickVolume), backgroundColor: '#0a84f5', barThickness: 6}],
  0, 9900, 3, 4,
  {id: 'tickDecor', afterDraw(chart) {
    const {ctx, scales: {y}} = chart;
    ctx.save();
    frame(ctx, 3, 19);
    vAxis(ctx, 4, 22);
    hTick(ctx, y.getPixelForValue(0), 16);
    axisLabel(ctx, '0', 20);
    ctx.restore();
  }});

subChart('rsi',
  [{type: 'line', data: pts(rsi), borderColor: '#ff0000', borderWidth: 2, pointRadius: 0, tension: 0}],
  0, 100, 3, 4,
  {id: 'rsiDecor',
   beforeDatasetsDraw(chart) {
     const {ctx, chartArea: a, scales: {y}} = chart;
     ctx.save();
     ctx.lineWidth = 1;
     ctx.strokeStyle = '#000';
     [0, 50, 100].forEach(v => {
       const py = Math.round(y.getPixelForValue(v)) + 0.5;
       ctx.beginPath(); ctx.moveTo(a.left, py); ctx.lineTo(a.right, py); ctx.stroke();
     });
     ctx.strokeStyle = '#ff7a3c';
     ctx.setLineDash([4, 3]);
     rsiLevels.forEach(v => {
       const py = Math.round(y.getPixelForValue(v)) + 0.5;
       ctx.beginPath(); ctx.moveTo(a.left, py); ctx.lineTo(a.right, py); ctx.stroke();
     });
     ctx.restore();
   },
   afterDraw(chart) {
     const {ctx, scales: {y}} = chart;
     ctx.save();
     frame(ctx, 1, 20);
     vAxis(ctx, 0, 22);
     ctx.fillStyle = '#9a9a9a';
     ctx.fillRect(1849, 1, 42, 11);
     ctx.fillStyle = '#ff8a4c';
     ctx.fillRect(1849, 12, 42, 8);
     ctx.font = axisFont;
     ctx.fillStyle = '#000';
     ctx.textAlign = 'left';
     ctx.textBaseline = 'middle';
     ctx.fillText('100', 1851, Math.round(y.getPixelForValue(100)) + 3);
     ctx.restore();
   }});

subChart('rvol',
  [{type: 'bar', data: pts(realVolume), backgroundColor: blue, barThickness: 6}],
  0, 21.16, 1, 7,
  {id: 'rvolDecor',
   beforeDatasetsDraw(chart) {
     const {ctx, chartArea: a, scales: {y}} = chart;
     const py = Math.round(y.getPixelForValue(0)) + 0.5;
     ctx.save();
     ctx.strokeStyle = blue; ctx.lineWidth = 1;
     ctx.beginPath(); ctx.moveTo(a.left, py); ctx.lineTo(a.right, py); ctx.stroke();
     ctx.restore();
   },
   afterDraw(chart) {
     const {ctx, scales: {y}} = chart;
     ctx.save();
     frame(ctx, 0, 69);
     vAxis(ctx, 0, 71);
     [0, 5, 10, 15, 20].forEach(v => hTick(ctx, y.getPixelForValue(v), v === 0 ? 16 : 5));
     axisLabel(ctx, '0', y.getPixelForValue(0) + 2);
     ctx.restore();
   }});

subChart('dvol',
  [{type: 'bar', data: pts(buyVolume), backgroundColor: blue, barThickness: 6, grouped: false},
   {type: 'bar', data: pts(sellVolume), backgroundColor: red, barThickness: 6, grouped: false}],
  -10.94, 12.53, 3, 3,
  {id: 'dvolDecor',
   afterDraw(chart) {
     const {ctx, chartArea: a, scales: {y}} = chart;
     ctx.save();
     const py = Math.round(y.getPixelForValue(0)) + 0.5;
     ctx.strokeStyle = '#cc0000'; ctx.lineWidth = 1;
     ctx.beginPath(); ctx.moveTo(a.left, py); ctx.lineTo(a.right, py); ctx.stroke();
     frame(ctx, 1, 136);
     vAxis(ctx, 1, 139);
     for (let k = -4; k <= 5; k++) hTick(ctx, y.getPixelForValue(k * 2.5), k === 0 ? 16 : 5);
     axisLabel(ctx, '0', y.getPixelForValue(0) + 1);
     ctx.restore();
   }});
</script>
</body>
</html>
